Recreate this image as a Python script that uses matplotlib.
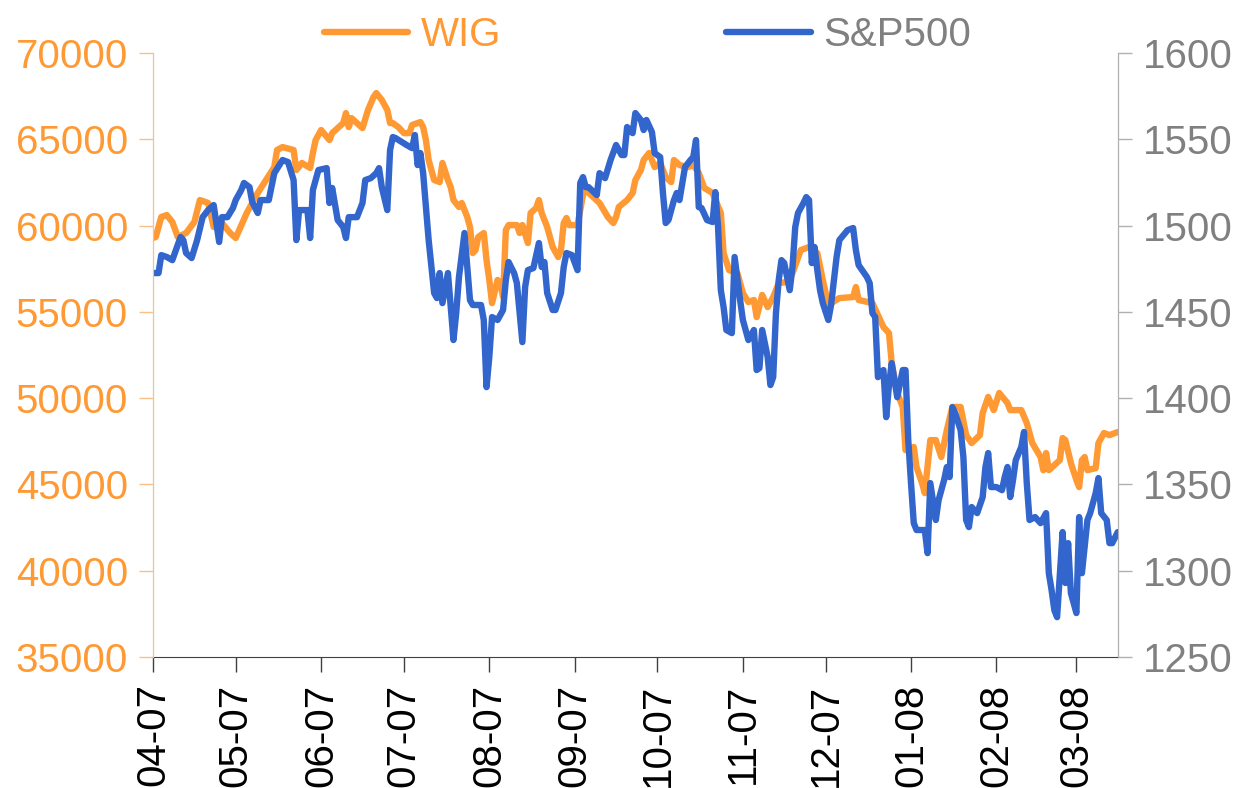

import matplotlib

matplotlib.use("Agg")
import matplotlib.dates as mdates
import matplotlib.pyplot as plt
import pandas as pd

ORANGE = "#FF9933"
BLUE = "#3366CC"
GREY = "#808080"
SPINE_L = "#F9C08A"

START = pd.Timestamp("2007-04-01")

# days since START, index level
WIG_DAYS = [0, 1, 3, 5, 7, 9, 12, 15, 17, 20, 22, 25, 28, 30, 34, 38, 41, 44, 45, 47,
            51, 52, 54, 57, 58, 59, 61, 64, 65, 69, 70, 71, 72, 76, 78, 80, 81, 83, 85, 86,
            87, 89, 91, 93, 94, 97, 98, 99, 100, 102, 104, 105, 107, 108, 109, 111, 112, 114, 115, 116,
            117, 118, 120, 121, 122, 123, 125, 126, 127, 128, 129, 132, 133, 134, 136, 137, 139, 140, 141, 143,
            145, 147, 148, 149, 150, 151, 154, 156, 157, 162, 165, 167, 168, 169, 172, 174, 175, 177, 178, 180,
            182, 184, 186, 188, 189, 191, 194, 196, 198, 200, 203, 206, 207, 209, 212, 214, 216, 218, 219, 221,
            223, 225, 227, 230, 232, 235, 238, 241, 243, 245, 249, 254, 255, 256, 261, 265, 267, 268, 270, 272,
            273, 276, 277, 279, 280, 282, 284, 286, 288, 290, 293, 295, 297, 300, 301, 303, 305, 307, 310, 311,
            315, 317, 319, 322, 323, 324, 325, 329, 330, 331, 333, 335, 336, 337, 338, 339, 342, 343, 345, 347,
            350]
WIG = [59280, 59340, 60500, 60610, 60210, 59340, 59570, 60210, 61480, 61310, 59920, 60150, 59570, 59280, 60730, 61890, 62640, 63390, 64380, 64550,
       64380, 63220, 63630, 63340, 64210, 64960, 65540, 64960, 65360, 65940, 66520, 65710, 66230, 65650, 66700, 67450, 67680, 67280, 66700, 65940,
       65940, 65710, 65360, 65360, 65830, 66000, 65710, 64960, 63800, 62640, 62520, 63630, 62640, 62230, 61480, 61080, 61310, 60500, 59920, 58410,
       58580, 59340, 59570, 58000, 56850, 55510, 56850, 56670, 55860, 59740, 60030, 60030, 59570, 60030, 58990, 60730, 61020, 61480, 60730, 59920,
       58760, 58180, 58580, 60150, 60440, 60030, 60030, 61770, 62060, 61310, 60500, 60150, 60500, 61080, 61480, 61890, 62640, 63220, 63800, 64210,
       63390, 63630, 62810, 62520, 63800, 63510, 63390, 63510, 63050, 62180, 61890, 60730, 58410, 57420, 57250, 56090, 55570, 55690, 54700, 55980,
       55280, 55860, 56670, 56730, 57250, 58580, 58760, 58410, 56850, 55400, 55800, 55860, 56440, 55690, 55510, 54120, 53770, 52040, 50300, 49490,
       46990, 47170, 46010, 45080, 44500, 47570, 47570, 46590, 48150, 49490, 49490, 47860, 47400, 47860, 49140, 50070, 49310, 50300, 49720, 49310,
       49310, 48560, 47400, 46590, 45830, 46820, 45830, 46410, 47690, 47570, 46240, 45260, 44850, 46410, 46590, 45830, 45950, 47400, 47980, 47860,
       48040]

SPX_DAYS = [0, 2, 3, 5, 7, 10, 11, 12, 14, 16, 18, 20, 22, 24, 25, 27, 29, 30, 32, 33,
            35, 36, 38, 39, 42, 44, 47, 49, 51, 52, 53, 56, 57, 58, 60, 63, 64, 65, 67, 69,
            70, 71, 74, 76, 77, 79, 81, 82, 83, 85, 86, 87, 88, 92, 94, 95, 96, 97, 98, 99,
            100, 102, 103, 104, 105, 107, 109, 110, 111, 113, 115, 116, 119, 120, 121, 122, 123, 125, 127, 128,
            129, 131, 132, 134, 135, 136, 138, 140, 141, 142, 143, 145, 146, 148, 149, 150, 152, 154, 155, 156,
            157, 158, 161, 162, 164, 166, 168, 170, 171, 172, 173, 174, 175, 177, 178, 179, 181, 182, 184, 185,
            186, 187, 189, 190, 191, 193, 195, 196, 197, 198, 199, 201, 203, 204, 205, 206, 207, 208, 210, 211,
            213, 214, 216, 218, 219, 220, 221, 223, 224, 225, 226, 227, 228, 229, 231, 232, 233, 234, 236, 237,
            238, 239, 240, 241, 242, 243, 245, 246, 248, 249, 252, 254, 255, 256, 259, 260, 261, 262, 263, 265,
            266, 267, 268, 270, 272, 273, 274, 275, 276, 277, 280, 281, 282, 284, 285, 287, 288, 289, 290, 291,
            293, 294, 295, 296, 297, 299, 301, 302, 303, 304, 306, 308, 309, 310, 311, 312, 313, 315, 316, 317,
            318, 320, 322, 324, 325, 326, 327, 328, 330, 331, 332, 333, 335, 336, 337, 339, 340, 342, 343, 344,
            346, 347, 348, 350]
SPX = [1472.5, 1472.5, 1482.9, 1481.8, 1480.0, 1493.4, 1491.6, 1484.1, 1481.2, 1491.6, 1504.9, 1509.0, 1511.9, 1490.5, 1504.9, 1504.9, 1510.2, 1514.8, 1520.6, 1524.7,
       1522.3, 1513.6, 1507.3, 1514.8, 1514.8, 1530.4, 1538.0, 1536.8, 1526.4, 1491.6, 1509.0, 1509.0, 1492.8, 1520.6, 1532.2, 1533.3, 1513.1, 1521.8, 1503.2, 1499.2,
       1492.8, 1504.9, 1504.9, 1513.1, 1526.4, 1527.5, 1530.4, 1533.3, 1522.3, 1509.0, 1543.8, 1551.3, 1550.7, 1546.7, 1544.9, 1552.5, 1535.1, 1542.0, 1530.4, 1510.7,
       1491.6, 1460.9, 1458.0, 1472.5, 1455.1, 1472.5, 1433.7, 1449.3, 1470.2, 1495.7, 1456.8, 1454.0, 1454.0, 1445.3, 1406.4, 1423.8, 1447.0, 1445.3, 1451.1, 1468.4,
       1478.9, 1472.5, 1466.7, 1432.5, 1464.4, 1474.2, 1475.4, 1489.9, 1476.0, 1478.9, 1460.9, 1451.1, 1451.1, 1460.9, 1476.0, 1484.1, 1482.9, 1474.2, 1524.7, 1528.1,
       1522.3, 1522.3, 1517.7, 1530.4, 1527.5, 1538.0, 1546.7, 1540.9, 1540.9, 1557.1, 1555.4, 1553.6, 1565.2, 1561.2, 1555.4, 1561.2, 1554.2, 1542.0, 1539.7, 1518.9,
       1501.5, 1503.2, 1514.8, 1518.9, 1514.8, 1533.9, 1538.0, 1539.7, 1549.6, 1510.7, 1510.2, 1503.2, 1502.1, 1519.4, 1499.2, 1462.6, 1452.8, 1439.5, 1437.7, 1481.8,
       1456.8, 1445.3, 1433.7, 1439.5, 1416.3, 1417.4, 1439.5, 1423.8, 1407.6, 1412.2, 1449.3, 1468.4, 1480.0, 1478.3, 1462.6, 1476.0, 1499.2, 1507.3, 1513.1, 1516.5,
       1514.8, 1478.3, 1487.6, 1474.2, 1462.6, 1455.1, 1445.3, 1454.0, 1481.8, 1491.6, 1497.4, 1498.6, 1485.8, 1477.1, 1470.2, 1466.7, 1449.3, 1447.0, 1412.2, 1416.3,
       1389.0, 1407.6, 1420.3, 1400.6, 1416.3, 1416.3, 1375.7, 1350.8, 1327.6, 1323.6, 1323.6, 1310.2, 1350.8, 1329.4, 1340.9, 1352.5, 1360.1, 1354.3, 1394.8, 1391.4,
       1381.5, 1365.9, 1329.4, 1325.3, 1336.9, 1333.4, 1342.7, 1360.1, 1368.2, 1348.5, 1348.5, 1346.7, 1354.3, 1360.1, 1342.7, 1352.5, 1364.1, 1371.7, 1380.4, 1350.8,
       1329.4, 1331.1, 1327.6, 1333.4, 1298.6, 1288.8, 1277.2, 1273.1, 1322.4, 1292.9, 1316.0, 1287.1, 1275.5, 1331.1, 1298.6, 1329.4, 1333.4, 1345.0, 1353.7, 1333.4,
       1329.4, 1316.0, 1316.0, 1322.4]

WIG_TICKS = [35000, 40000, 45000, 50000, 55000, 60000, 65000, 70000]
SPX_TICKS = [1250, 1300, 1350, 1400, 1450, 1500, 1550, 1600]

plt.rcParams.update({
    "font.family": ["Liberation Sans", "DejaVu Sans"],
    "font.size": 29,
})

wig_dates = START + pd.to_timedelta(WIG_DAYS, unit="D")
spx_dates = START + pd.to_timedelta(SPX_DAYS, unit="D")

fig = plt.figure(figsize=(12.4, 7.88), dpi=100)
ax = fig.add_axes([0.1234, 0.1662, 0.778, 0.7665])
ax2 = ax.twinx()

l1, = ax.plot(wig_dates, WIG, color=ORANGE, lw=4.6, solid_joinstyle="round",
              solid_capstyle="round", label="WIG")
l2, = ax2.plot(spx_dates, SPX, color=BLUE, lw=4.6, solid_joinstyle="round",
               solid_capstyle="round", label="S&P500")

ax.set_xlim(START, START + pd.Timedelta(days=350))
ax.set_ylim(35000, 70000)
ax2.set_ylim(1250, 1600)
ax.set_yticks(WIG_TICKS)
ax2.set_yticks(SPX_TICKS)

ax.xaxis.set_major_locator(mdates.MonthLocator())
ax.xaxis.set_major_formatter(mdates.DateFormatter("%m-%y"))
ax.tick_params(axis="x", rotation=90, length=11, width=1, color="#404040", pad=8, labelcolor="black")
ax.tick_params(axis="y", length=10, width=1, color=SPINE_L, labelcolor=ORANGE, pad=8)
ax2.tick_params(axis="y", length=10, width=1, color="#B0B0B0", labelcolor=GREY, pad=8)

for a in (ax, ax2):
    a.spines["top"].set_visible(False)
    a.spines["left"].set_color(SPINE_L)
    a.spines["right"].set_color("#B0B0B0")
    a.spines["bottom"].set_color("#404040")
ax2.spines["bottom"].set_visible(False)

leg = fig.legend([l1, l2], ["WIG", "S&P500"], loc="center", bbox_to_anchor=(0.522, 0.955),
                 ncol=2, frameon=False, handlelength=2.1, handletextpad=0.3,
                 columnspacing=5.6, fontsize=29)
for txt, c in zip(leg.get_texts(), [ORANGE, GREY]):
    txt.set_color(c)

fig.savefig("out.png", dpi=100)
